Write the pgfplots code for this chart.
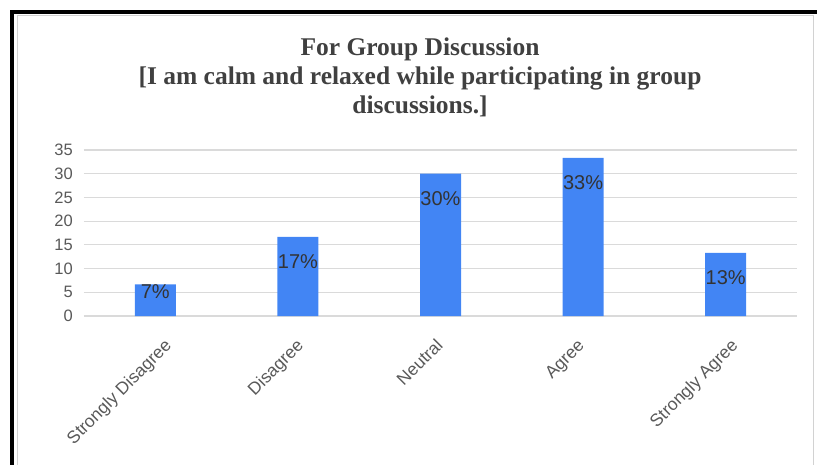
\documentclass[border=0pt]{standalone}
\usepackage{pgfplots}
\pgfplotsset{compat=1.18}
\usepackage{pgfplotstable}
\usetikzlibrary{calc}
\usepackage{fontspec}
\setmainfont{Liberation Sans}
\newfontfamily\titlefont{Liberation Serif}

\definecolor{barblue}{HTML}{4285F4}
\definecolor{gridgray}{HTML}{DADADA}
\definecolor{ticktext}{HTML}{595959}
\definecolor{valtext}{HTML}{333333}
\definecolor{titletext}{HTML}{404040}

% share of responses (%), and where each value label sits below the bar top
\pgfplotstableread{
x  share  off
0  6.67   -7
1  16.67  -25
2  30.00  -25
3  33.33  -25
4  13.33  -25
}\responses

\begin{document}
\begin{tikzpicture}[x=1pt,y=1pt]
\begin{axis}[
  scale only axis, width=713pt, height=166pt,
  xmin=-0.5, xmax=4.5, ymin=0, ymax=35,
  axis line style={draw=none},
  ytick={0,5,...,35},
  ymajorgrids, grid style={gridgray, line width=1.2pt},
  major tick length=0pt,
  xtick={0,1,2,3,4},
  xticklabels={Strongly Disagree,Disagree,Neutral,Agree,Strongly Agree},
  /pgf/number format/assume math mode=true,
  yticklabel style={text=ticktext, font=\fontsize{16.5}{18}\selectfont, anchor=east, inner sep=0pt, xshift=-11pt},
  % longer category names end further right of their tick
  xticklabel style={text=ticktext, font=\fontsize{17.5}{20}\selectfont, inner sep=0pt,
    xshift={{8,-2.5,-5.6,-6.5,4}[\ticknum]}, yshift=-21.5pt, rotate=45, anchor=north east},
  clip=false,
]
\addplot[ybar, bar width=41pt, fill=barblue, draw=none,
  visualization depends on={\thisrow{off} \as \labeloff},
  nodes near coords={\pgfmathprintnumber[fixed,precision=0]{\pgfplotspointmeta}\%},
  nodes near coords style={anchor=center, yshift=\labeloff, text=valtext, font=\fontsize{20}{22}\selectfont, inner sep=0pt},
  point meta=y,
] table[x=x, y=share] {\responses};
\coordinate (O) at (axis cs:-0.5,0);
\end{axis}

% page: 817 x 464, with the plot area's lower-left corner at (84,148)
\pgfresetboundingbox
\begin{scope}[shift={($(O)+(-84,-148)$)}]
\useasboundingbox (0,0) rectangle (817,464);
% page frame
\draw[black, line width=4pt] (12.5,451.5) rectangle (840,-30);
\draw[gray!35, line width=1pt] (18,448) rectangle (813,-30);
% title
\begin{scope}[every node/.style={anchor=base, text=titletext, font={\titlefont\bfseries\fontsize{25.5}{30}\selectfont}}]
\node at (420,408) {For Group Discussion};
\node at (420,379) {[I am calm and relaxed while participating in group};
\node at (420,350) {discussions.]};
\end{scope}
\end{scope}
\end{tikzpicture}
\end{document}
